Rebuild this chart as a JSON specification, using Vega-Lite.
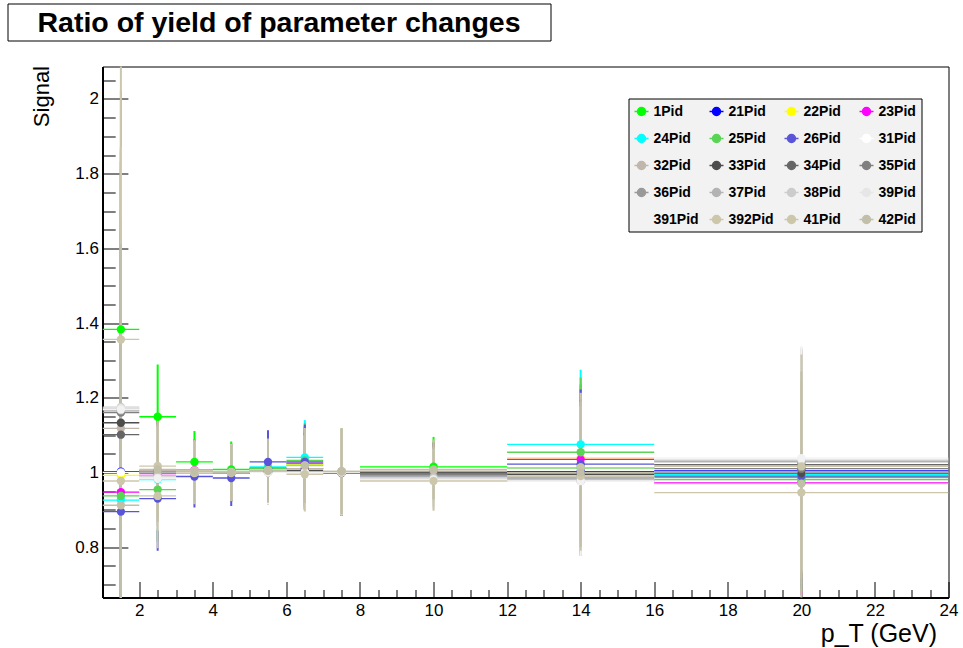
{
  "$schema": "https://vega.github.io/schema/vega-lite/v6.json",
  "background": "white",
  "padding": {"left": 6.5, "top": 2.5, "right": 5, "bottom": 0},
  "config": {
    "font": "Liberation Sans",
    "axis": {"labelFont": "Liberation Sans", "titleFont": "Liberation Sans", "labelColor": "black", "titleColor": "black", "tickColor": "black", "domainColor": "black", "grid": false}
  },
  "datasets": {
    "bins": [
      {"b": 1.5, "x1": 1, "x2": 2}, {"b": 2.5, "x1": 2, "x2": 3}, {"b": 3.5, "x1": 3, "x2": 4},
      {"b": 4.5, "x1": 4, "x2": 5}, {"b": 5.5, "x1": 5, "x2": 6}, {"b": 6.5, "x1": 6, "x2": 7},
      {"b": 7.5, "x1": 7, "x2": 8}, {"b": 10, "x1": 8, "x2": 12}, {"b": 14, "x1": 12, "x2": 16},
      {"b": 20, "x1": 16, "x2": 24}
    ],
    "ratios": [
      {"s": "1Pid", "b": 1.5, "y": 1.383, "lo": 0.743, "hi": 2.023},
      {"s": "1Pid", "b": 2.5, "y": 1.149, "lo": 1.009, "hi": 1.289},
      {"s": "1Pid", "b": 3.5, "y": 1.028, "lo": 0.945, "hi": 1.111},
      {"s": "1Pid", "b": 4.5, "y": 1.008, "lo": 0.933, "hi": 1.083},
      {"s": "1Pid", "b": 5.5, "y": 1.004, "lo": 0.919, "hi": 1.089},
      {"s": "1Pid", "b": 6.5, "y": 1.022, "lo": 0.922, "hi": 1.122},
      {"s": "1Pid", "b": 7.5, "y": 1.002, "lo": 0.887, "hi": 1.117},
      {"s": "1Pid", "b": 10, "y": 1.015, "lo": 0.935, "hi": 1.095},
      {"s": "1Pid", "b": 14, "y": 1.012, "lo": 0.812, "hi": 1.212},
      {"s": "1Pid", "b": 20, "y": 0.987, "lo": 0.687, "hi": 1.287},

      {"s": "21Pid", "b": 1.5, "y": 1.002, "lo": 0.302, "hi": 1.702},
      {"s": "21Pid", "b": 2.5, "y": 1.004, "lo": 0.864, "hi": 1.144},
      {"s": "21Pid", "b": 3.5, "y": 1.0, "lo": 0.917, "hi": 1.083},
      {"s": "21Pid", "b": 4.5, "y": 0.998, "lo": 0.923, "hi": 1.073},
      {"s": "21Pid", "b": 5.5, "y": 1.01, "lo": 0.925, "hi": 1.095},
      {"s": "21Pid", "b": 6.5, "y": 1.01, "lo": 0.91, "hi": 1.11},
      {"s": "21Pid", "b": 7.5, "y": 1.0, "lo": 0.885, "hi": 1.115},
      {"s": "21Pid", "b": 10, "y": 1.0, "lo": 0.92, "hi": 1.08},
      {"s": "21Pid", "b": 14, "y": 1.002, "lo": 0.802, "hi": 1.202},
      {"s": "21Pid", "b": 20, "y": 1.004, "lo": 0.704, "hi": 1.304},

      {"s": "22Pid", "b": 1.5, "y": 0.992, "lo": 0.292, "hi": 1.692},
      {"s": "22Pid", "b": 2.5, "y": 1.0, "lo": 0.86, "hi": 1.14},
      {"s": "22Pid", "b": 3.5, "y": 1.002, "lo": 0.919, "hi": 1.085},
      {"s": "22Pid", "b": 4.5, "y": 1.0, "lo": 0.925, "hi": 1.075},
      {"s": "22Pid", "b": 5.5, "y": 1.008, "lo": 0.923, "hi": 1.093},
      {"s": "22Pid", "b": 6.5, "y": 1.02, "lo": 0.92, "hi": 1.12},
      {"s": "22Pid", "b": 7.5, "y": 0.998, "lo": 0.883, "hi": 1.113},
      {"s": "22Pid", "b": 10, "y": 1.0, "lo": 0.92, "hi": 1.08},
      {"s": "22Pid", "b": 14, "y": 1.039, "lo": 0.839, "hi": 1.239},
      {"s": "22Pid", "b": 20, "y": 0.992, "lo": 0.692, "hi": 1.292},

      {"s": "23Pid", "b": 1.5, "y": 0.947, "lo": 0.247, "hi": 1.647},
      {"s": "23Pid", "b": 2.5, "y": 0.992, "lo": 0.852, "hi": 1.132},
      {"s": "23Pid", "b": 3.5, "y": 1.006, "lo": 0.923, "hi": 1.089},
      {"s": "23Pid", "b": 4.5, "y": 1.002, "lo": 0.927, "hi": 1.077},
      {"s": "23Pid", "b": 5.5, "y": 1.012, "lo": 0.927, "hi": 1.097},
      {"s": "23Pid", "b": 6.5, "y": 1.025, "lo": 0.925, "hi": 1.125},
      {"s": "23Pid", "b": 7.5, "y": 1.0, "lo": 0.885, "hi": 1.115},
      {"s": "23Pid", "b": 10, "y": 0.998, "lo": 0.918, "hi": 1.078},
      {"s": "23Pid", "b": 14, "y": 1.035, "lo": 0.835, "hi": 1.235},
      {"s": "23Pid", "b": 20, "y": 0.972, "lo": 0.672, "hi": 1.272},

      {"s": "24Pid", "b": 1.5, "y": 0.926, "lo": 0.226, "hi": 1.626},
      {"s": "24Pid", "b": 2.5, "y": 0.981, "lo": 0.841, "hi": 1.121},
      {"s": "24Pid", "b": 3.5, "y": 1.0, "lo": 0.917, "hi": 1.083},
      {"s": "24Pid", "b": 4.5, "y": 0.998, "lo": 0.923, "hi": 1.073},
      {"s": "24Pid", "b": 5.5, "y": 1.015, "lo": 0.93, "hi": 1.1},
      {"s": "24Pid", "b": 6.5, "y": 1.04, "lo": 0.94, "hi": 1.14},
      {"s": "24Pid", "b": 7.5, "y": 1.0, "lo": 0.885, "hi": 1.115},
      {"s": "24Pid", "b": 10, "y": 0.99, "lo": 0.91, "hi": 1.07},
      {"s": "24Pid", "b": 14, "y": 1.075, "lo": 0.875, "hi": 1.275},
      {"s": "24Pid", "b": 20, "y": 0.995, "lo": 0.695, "hi": 1.295},

      {"s": "25Pid", "b": 1.5, "y": 0.937, "lo": 0.237, "hi": 1.637},
      {"s": "25Pid", "b": 2.5, "y": 0.954, "lo": 0.814, "hi": 1.094},
      {"s": "25Pid", "b": 3.5, "y": 0.998, "lo": 0.915, "hi": 1.081},
      {"s": "25Pid", "b": 4.5, "y": 1.003, "lo": 0.928, "hi": 1.078},
      {"s": "25Pid", "b": 5.5, "y": 1.01, "lo": 0.925, "hi": 1.095},
      {"s": "25Pid", "b": 6.5, "y": 1.032, "lo": 0.932, "hi": 1.132},
      {"s": "25Pid", "b": 7.5, "y": 1.002, "lo": 0.887, "hi": 1.117},
      {"s": "25Pid", "b": 10, "y": 0.995, "lo": 0.915, "hi": 1.075},
      {"s": "25Pid", "b": 14, "y": 1.054, "lo": 0.854, "hi": 1.254},
      {"s": "25Pid", "b": 20, "y": 0.981, "lo": 0.681, "hi": 1.281},

      {"s": "26Pid", "b": 1.5, "y": 0.895, "lo": 0.195, "hi": 1.595},
      {"s": "26Pid", "b": 2.5, "y": 0.93, "lo": 0.79, "hi": 1.07},
      {"s": "26Pid", "b": 3.5, "y": 0.989, "lo": 0.906, "hi": 1.072},
      {"s": "26Pid", "b": 4.5, "y": 0.985, "lo": 0.91, "hi": 1.06},
      {"s": "26Pid", "b": 5.5, "y": 1.028, "lo": 0.943, "hi": 1.113},
      {"s": "26Pid", "b": 6.5, "y": 1.028, "lo": 0.928, "hi": 1.128},
      {"s": "26Pid", "b": 7.5, "y": 0.998, "lo": 0.883, "hi": 1.113},
      {"s": "26Pid", "b": 10, "y": 0.99, "lo": 0.91, "hi": 1.07},
      {"s": "26Pid", "b": 14, "y": 1.022, "lo": 0.822, "hi": 1.222},
      {"s": "26Pid", "b": 20, "y": 0.99, "lo": 0.69, "hi": 1.29},

      {"s": "31Pid", "b": 1.5, "y": 1.0, "lo": 0.3, "hi": 1.7},
      {"s": "31Pid", "b": 2.5, "y": 0.99, "lo": 0.85, "hi": 1.13},
      {"s": "31Pid", "b": 3.5, "y": 1.0, "lo": 0.917, "hi": 1.083},
      {"s": "31Pid", "b": 4.5, "y": 1.0, "lo": 0.925, "hi": 1.075},
      {"s": "31Pid", "b": 5.5, "y": 1.0, "lo": 0.915, "hi": 1.085},
      {"s": "31Pid", "b": 6.5, "y": 1.0, "lo": 0.9, "hi": 1.1},
      {"s": "31Pid", "b": 7.5, "y": 1.0, "lo": 0.885, "hi": 1.115},
      {"s": "31Pid", "b": 10, "y": 0.985, "lo": 0.905, "hi": 1.065},
      {"s": "31Pid", "b": 14, "y": 0.985, "lo": 0.785, "hi": 1.185},
      {"s": "31Pid", "b": 20, "y": 1.0, "lo": 0.7, "hi": 1.3},

      {"s": "32Pid", "b": 1.5, "y": 1.118, "lo": 0.418, "hi": 1.818},
      {"s": "32Pid", "b": 2.5, "y": 1.005, "lo": 0.865, "hi": 1.145},
      {"s": "32Pid", "b": 3.5, "y": 1.003, "lo": 0.92, "hi": 1.086},
      {"s": "32Pid", "b": 4.5, "y": 1.0, "lo": 0.925, "hi": 1.075},
      {"s": "32Pid", "b": 5.5, "y": 1.005, "lo": 0.92, "hi": 1.09},
      {"s": "32Pid", "b": 6.5, "y": 1.01, "lo": 0.91, "hi": 1.11},
      {"s": "32Pid", "b": 7.5, "y": 1.0, "lo": 0.885, "hi": 1.115},
      {"s": "32Pid", "b": 10, "y": 1.0, "lo": 0.92, "hi": 1.08},
      {"s": "32Pid", "b": 14, "y": 1.013, "lo": 0.813, "hi": 1.213},
      {"s": "32Pid", "b": 20, "y": 1.017, "lo": 0.717, "hi": 1.317},

      {"s": "33Pid", "b": 1.5, "y": 1.133, "lo": 0.433, "hi": 1.833},
      {"s": "33Pid", "b": 2.5, "y": 1.0, "lo": 0.86, "hi": 1.14},
      {"s": "33Pid", "b": 3.5, "y": 1.0, "lo": 0.917, "hi": 1.083},
      {"s": "33Pid", "b": 4.5, "y": 0.998, "lo": 0.923, "hi": 1.073},
      {"s": "33Pid", "b": 5.5, "y": 1.002, "lo": 0.917, "hi": 1.087},
      {"s": "33Pid", "b": 6.5, "y": 1.005, "lo": 0.905, "hi": 1.105},
      {"s": "33Pid", "b": 7.5, "y": 1.0, "lo": 0.885, "hi": 1.115},
      {"s": "33Pid", "b": 10, "y": 1.0, "lo": 0.92, "hi": 1.08},
      {"s": "33Pid", "b": 14, "y": 0.995, "lo": 0.795, "hi": 1.195},
      {"s": "33Pid", "b": 20, "y": 0.998, "lo": 0.698, "hi": 1.298},

      {"s": "34Pid", "b": 1.5, "y": 1.101, "lo": 0.401, "hi": 1.801},
      {"s": "34Pid", "b": 2.5, "y": 0.998, "lo": 0.858, "hi": 1.138},
      {"s": "34Pid", "b": 3.5, "y": 1.0, "lo": 0.917, "hi": 1.083},
      {"s": "34Pid", "b": 4.5, "y": 1.0, "lo": 0.925, "hi": 1.075},
      {"s": "34Pid", "b": 5.5, "y": 1.0, "lo": 0.915, "hi": 1.085},
      {"s": "34Pid", "b": 6.5, "y": 1.0, "lo": 0.9, "hi": 1.1},
      {"s": "34Pid", "b": 7.5, "y": 1.0, "lo": 0.885, "hi": 1.115},
      {"s": "34Pid", "b": 10, "y": 0.998, "lo": 0.918, "hi": 1.078},
      {"s": "34Pid", "b": 14, "y": 0.977, "lo": 0.777, "hi": 1.177},
      {"s": "34Pid", "b": 20, "y": 1.021, "lo": 0.721, "hi": 1.321},

      {"s": "35Pid", "b": 1.5, "y": 1.16, "lo": 0.46, "hi": 1.86},
      {"s": "35Pid", "b": 2.5, "y": 1.0, "lo": 0.86, "hi": 1.14},
      {"s": "35Pid", "b": 3.5, "y": 1.002, "lo": 0.919, "hi": 1.085},
      {"s": "35Pid", "b": 4.5, "y": 1.0, "lo": 0.925, "hi": 1.075},
      {"s": "35Pid", "b": 5.5, "y": 1.0, "lo": 0.915, "hi": 1.085},
      {"s": "35Pid", "b": 6.5, "y": 1.002, "lo": 0.902, "hi": 1.102},
      {"s": "35Pid", "b": 7.5, "y": 1.0, "lo": 0.885, "hi": 1.115},
      {"s": "35Pid", "b": 10, "y": 0.995, "lo": 0.915, "hi": 1.075},
      {"s": "35Pid", "b": 14, "y": 0.98, "lo": 0.78, "hi": 1.18},
      {"s": "35Pid", "b": 20, "y": 1.01, "lo": 0.71, "hi": 1.31},

      {"s": "36Pid", "b": 1.5, "y": 1.165, "lo": 0.465, "hi": 1.865},
      {"s": "36Pid", "b": 2.5, "y": 1.002, "lo": 0.862, "hi": 1.142},
      {"s": "36Pid", "b": 3.5, "y": 1.0, "lo": 0.917, "hi": 1.083},
      {"s": "36Pid", "b": 4.5, "y": 1.0, "lo": 0.925, "hi": 1.075},
      {"s": "36Pid", "b": 5.5, "y": 1.002, "lo": 0.917, "hi": 1.087},
      {"s": "36Pid", "b": 6.5, "y": 1.0, "lo": 0.9, "hi": 1.1},
      {"s": "36Pid", "b": 7.5, "y": 1.0, "lo": 0.885, "hi": 1.115},
      {"s": "36Pid", "b": 10, "y": 0.99, "lo": 0.91, "hi": 1.07},
      {"s": "36Pid", "b": 14, "y": 0.985, "lo": 0.785, "hi": 1.185},
      {"s": "36Pid", "b": 20, "y": 1.03, "lo": 0.73, "hi": 1.33},

      {"s": "37Pid", "b": 1.5, "y": 1.17, "lo": 0.47, "hi": 1.87},
      {"s": "37Pid", "b": 2.5, "y": 1.0, "lo": 0.86, "hi": 1.14},
      {"s": "37Pid", "b": 3.5, "y": 1.0, "lo": 0.917, "hi": 1.083},
      {"s": "37Pid", "b": 4.5, "y": 1.0, "lo": 0.925, "hi": 1.075},
      {"s": "37Pid", "b": 5.5, "y": 1.0, "lo": 0.915, "hi": 1.085},
      {"s": "37Pid", "b": 6.5, "y": 1.0, "lo": 0.9, "hi": 1.1},
      {"s": "37Pid", "b": 7.5, "y": 1.0, "lo": 0.885, "hi": 1.115},
      {"s": "37Pid", "b": 10, "y": 0.988, "lo": 0.908, "hi": 1.068},
      {"s": "37Pid", "b": 14, "y": 0.99, "lo": 0.79, "hi": 1.19},
      {"s": "37Pid", "b": 20, "y": 1.028, "lo": 0.728, "hi": 1.328},

      {"s": "38Pid", "b": 1.5, "y": 1.175, "lo": 0.475, "hi": 1.875},
      {"s": "38Pid", "b": 2.5, "y": 0.99, "lo": 0.85, "hi": 1.13},
      {"s": "38Pid", "b": 3.5, "y": 1.0, "lo": 0.917, "hi": 1.083},
      {"s": "38Pid", "b": 4.5, "y": 1.0, "lo": 0.925, "hi": 1.075},
      {"s": "38Pid", "b": 5.5, "y": 1.0, "lo": 0.915, "hi": 1.085},
      {"s": "38Pid", "b": 6.5, "y": 1.0, "lo": 0.9, "hi": 1.1},
      {"s": "38Pid", "b": 7.5, "y": 1.0, "lo": 0.885, "hi": 1.115},
      {"s": "38Pid", "b": 10, "y": 0.985, "lo": 0.905, "hi": 1.065},
      {"s": "38Pid", "b": 14, "y": 0.98, "lo": 0.78, "hi": 1.18},
      {"s": "38Pid", "b": 20, "y": 1.033, "lo": 0.733, "hi": 1.333},

      {"s": "39Pid", "b": 1.5, "y": 1.172, "lo": 0.472, "hi": 1.872},
      {"s": "39Pid", "b": 2.5, "y": 0.985, "lo": 0.845, "hi": 1.125},
      {"s": "39Pid", "b": 3.5, "y": 1.0, "lo": 0.917, "hi": 1.083},
      {"s": "39Pid", "b": 4.5, "y": 1.0, "lo": 0.925, "hi": 1.075},
      {"s": "39Pid", "b": 5.5, "y": 1.0, "lo": 0.915, "hi": 1.085},
      {"s": "39Pid", "b": 6.5, "y": 1.0, "lo": 0.9, "hi": 1.1},
      {"s": "39Pid", "b": 7.5, "y": 1.0, "lo": 0.885, "hi": 1.115},
      {"s": "39Pid", "b": 10, "y": 0.982, "lo": 0.902, "hi": 1.062},
      {"s": "39Pid", "b": 14, "y": 0.978, "lo": 0.778, "hi": 1.178},
      {"s": "39Pid", "b": 20, "y": 1.035, "lo": 0.735, "hi": 1.335},

      {"s": "391Pid", "b": 1.5, "y": 1.168, "lo": 0.468, "hi": 1.868},
      {"s": "391Pid", "b": 2.5, "y": 0.983, "lo": 0.843, "hi": 1.123},
      {"s": "391Pid", "b": 3.5, "y": 1.0, "lo": 0.917, "hi": 1.083},
      {"s": "391Pid", "b": 4.5, "y": 1.0, "lo": 0.925, "hi": 1.075},
      {"s": "391Pid", "b": 5.5, "y": 1.0, "lo": 0.915, "hi": 1.085},
      {"s": "391Pid", "b": 6.5, "y": 1.0, "lo": 0.9, "hi": 1.1},
      {"s": "391Pid", "b": 7.5, "y": 1.0, "lo": 0.885, "hi": 1.115},
      {"s": "391Pid", "b": 10, "y": 0.98, "lo": 0.9, "hi": 1.06},
      {"s": "391Pid", "b": 14, "y": 0.976, "lo": 0.776, "hi": 1.176},
      {"s": "391Pid", "b": 20, "y": 1.038, "lo": 0.738, "hi": 1.338},

      {"s": "392Pid", "b": 1.5, "y": 1.356, "lo": 0.556, "hi": 2.156},
      {"s": "392Pid", "b": 2.5, "y": 1.017, "lo": 0.877, "hi": 1.157},
      {"s": "392Pid", "b": 3.5, "y": 1.005, "lo": 0.922, "hi": 1.088},
      {"s": "392Pid", "b": 4.5, "y": 1.0, "lo": 0.925, "hi": 1.075},
      {"s": "392Pid", "b": 5.5, "y": 1.005, "lo": 0.92, "hi": 1.09},
      {"s": "392Pid", "b": 6.5, "y": 1.019, "lo": 0.919, "hi": 1.119},
      {"s": "392Pid", "b": 7.5, "y": 1.003, "lo": 0.888, "hi": 1.118},
      {"s": "392Pid", "b": 10, "y": 1.006, "lo": 0.926, "hi": 1.086},
      {"s": "392Pid", "b": 14, "y": 0.99, "lo": 0.79, "hi": 1.19},
      {"s": "392Pid", "b": 20, "y": 1.016, "lo": 0.716, "hi": 1.316},

      {"s": "41Pid", "b": 1.5, "y": 0.977, "lo": 0.277, "hi": 1.677},
      {"s": "41Pid", "b": 2.5, "y": 0.937, "lo": 0.797, "hi": 1.077},
      {"s": "41Pid", "b": 3.5, "y": 0.998, "lo": 0.915, "hi": 1.081},
      {"s": "41Pid", "b": 4.5, "y": 0.998, "lo": 0.923, "hi": 1.073},
      {"s": "41Pid", "b": 5.5, "y": 1.004, "lo": 0.919, "hi": 1.089},
      {"s": "41Pid", "b": 6.5, "y": 0.995, "lo": 0.895, "hi": 1.095},
      {"s": "41Pid", "b": 7.5, "y": 1.002, "lo": 0.887, "hi": 1.117},
      {"s": "41Pid", "b": 10, "y": 0.977, "lo": 0.897, "hi": 1.057},
      {"s": "41Pid", "b": 14, "y": 1.013, "lo": 0.813, "hi": 1.213},
      {"s": "41Pid", "b": 20, "y": 0.946, "lo": 0.646, "hi": 1.246},

      {"s": "42Pid", "b": 1.5, "y": 0.912, "lo": 0.212, "hi": 1.612},
      {"s": "42Pid", "b": 2.5, "y": 1.008, "lo": 0.868, "hi": 1.148},
      {"s": "42Pid", "b": 3.5, "y": 1.002, "lo": 0.919, "hi": 1.085},
      {"s": "42Pid", "b": 4.5, "y": 1.0, "lo": 0.925, "hi": 1.075},
      {"s": "42Pid", "b": 5.5, "y": 1.005, "lo": 0.92, "hi": 1.09},
      {"s": "42Pid", "b": 6.5, "y": 1.018, "lo": 0.918, "hi": 1.118},
      {"s": "42Pid", "b": 7.5, "y": 1.003, "lo": 0.888, "hi": 1.118},
      {"s": "42Pid", "b": 10, "y": 1.008, "lo": 0.928, "hi": 1.088},
      {"s": "42Pid", "b": 14, "y": 1.0, "lo": 0.8, "hi": 1.2},
      {"s": "42Pid", "b": 20, "y": 0.97, "lo": 0.67, "hi": 1.27}
    ]
  },
  "spacing": 23,
  "vconcat": [
    {
      "width": 543,
      "height": 37,
      "data": {"values": [{"t": "Ratio of yield of parameter changes"}]},
      "view": {"stroke": "black", "strokeWidth": 1, "fill": "white"},
      "mark": {"type": "text", "font": "Liberation Sans", "fontWeight": "bold", "fontSize": 28.5, "align": "center", "baseline": "middle", "color": "black", "dy": 1},
      "encoding": {"text": {"field": "t", "type": "nominal"}}
    },
    {
      "spacing": 0,
      "hconcat": [
        {
          "width": 1,
          "height": 531,
          "data": {"values": []},
          "view": {"stroke": null},
          "mark": {"type": "point", "opacity": 0}
        },
        {
          "width": 846,
          "height": 531,
          "data": {"name": "ratios"},
          "transform": [
            {"lookup": "b", "from": {"data": {"name": "bins"}, "key": "b", "fields": ["x1", "x2"]}}
          ],
          "view": {"stroke": "black", "strokeWidth": 1},
          "resolve": {"axis": {"x": "independent", "y": "independent"}},
          "layer": [
            {
              "mark": {"type": "rule", "strokeWidth": 1.3, "clip": true},
              "encoding": {
                "x": {
                  "field": "x1", "type": "quantitative",
                  "scale": {"domain": [1, 24], "nice": false, "zero": false},
                  "axis": {
                    "orient": "bottom", "title": null, "labels": false, "domain": false,
                    "tickSize": -8, "tickWidth": 1,
                    "values": [1.5, 2.5, 3, 3.5, 4.5, 5, 5.5, 6.5, 7, 7.5, 8.5, 9, 9.5, 10.5, 11, 11.5, 12.5, 13, 13.5, 14.5, 15, 15.5, 16.5, 17, 17.5, 18.5, 19, 19.5, 20.5, 21, 21.5, 22.5, 23, 23.5]
                  }
                },
                "x2": {"field": "x2"},
                "y": {
                  "field": "y", "type": "quantitative",
                  "scale": {"domain": [0.665, 2.087], "nice": false, "zero": false},
                  "axis": {
                    "orient": "left", "title": null, "labels": false, "domain": false,
                    "tickSize": -12.7, "tickWidth": 1,
                    "values": [0.7, 0.75, 0.85, 0.9, 0.95, 1.05, 1.1, 1.15, 1.25, 1.3, 1.35, 1.45, 1.5, 1.55, 1.65, 1.7, 1.75, 1.85, 1.9, 1.95, 2.05]
                  }
                },
                "color": {
                  "field": "s", "type": "nominal",
                  "scale": {
                    "domain": ["1Pid", "21Pid", "22Pid", "23Pid", "24Pid", "25Pid", "26Pid", "31Pid", "32Pid", "33Pid", "34Pid", "35Pid", "36Pid", "37Pid", "38Pid", "39Pid", "391Pid", "392Pid", "41Pid", "42Pid"],
                    "range": ["#00ff00", "#0000ff", "#ffff00", "#ff00ff", "#00ffff", "#59d454", "#5954d9", "#ffffff", "#c0b6ac", "#4d4d4d", "#666666", "#808080", "#999999", "#b3b3b3", "#cccccc", "#e6e6e6", "#f2f2f2", "#ccc7ab", "#ccc7ab", "#c2bfa8"]
                  },
                  "legend": {
                    "orient": "none", "legendX": 621, "legendY": 95, "columns": 4, "direction": "horizontal", "gridAlign": "all",
                    "title": null, "fillColor": "#f2f2f2", "strokeColor": "black", "padding": 5,
                    "symbolType": "M-1,0H1M0.57,0A0.57,0.57,0,1,1,-0.57,0A0.57,0.57,0,1,1,0.57,0Z",
                    "symbolSize": 196, "symbolStrokeWidth": 1.5, "symbolOpacity": 1,
                    "labelFont": "Liberation Sans", "labelFontWeight": "bold", "labelFontSize": 14, "labelColor": "black",
                    "labelOffset": 4, "columnPadding": 7, "rowPadding": 12,
                    "encode": {"symbols": {"update": {"fill": {"scale": "color", "field": "value"}, "stroke": {"scale": "color", "field": "value"}}}}
                  }
                }
              }
            },
            {
              "mark": {"type": "rule", "strokeWidth": 2, "clip": true},
              "encoding": {
                "x": {
                  "field": "b", "type": "quantitative",
                  "axis": {
                    "orient": "bottom", "values": [2, 4, 6, 8, 10, 12, 14, 16, 18, 20, 22, 24], "format": "d",
                    "tickSize": -16, "tickWidth": 1, "labelPadding": 21, "labelFontSize": 17, "labelFlush": false, "labelOverlap": false,
                    "domain": true, "domainWidth": 2,
                    "title": "p_T (GeV)", "titleFontSize": 25, "titleFontWeight": "normal",
                    "titleX": 834, "titleY": 44, "titleAlign": "right", "titleBaseline": "alphabetic"
                  }
                },
                "y": {
                  "field": "lo", "type": "quantitative",
                  "axis": {
                    "orient": "left", "values": [0.8, 1, 1.2, 1.4, 1.6, 1.8, 2], "format": ".2~f",
                    "tickSize": -25.4, "tickWidth": 1, "labelPadding": 29.5, "labelFontSize": 17, "labelOverlap": false,
                    "domain": true, "domainWidth": 2, "minExtent": 93,
                    "title": "Signal", "titleFontSize": 22, "titleFontWeight": "normal",
                    "titleX": -61, "titleY": -1, "titleAngle": 270, "titleAlign": "right", "titleBaseline": "middle"
                  }
                },
                "y2": {"field": "hi"},
                "color": {"field": "s", "type": "nominal"}
              }
            },
            {
              "mark": {"type": "point", "filled": true, "size": 70, "opacity": 1, "clip": true},
              "encoding": {
                "x": {"field": "b", "type": "quantitative", "axis": null},
                "y": {"field": "y", "type": "quantitative", "axis": null},
                "color": {"field": "s", "type": "nominal"}
              }
            }
          ]
        }
      ]
    }
  ]
}
